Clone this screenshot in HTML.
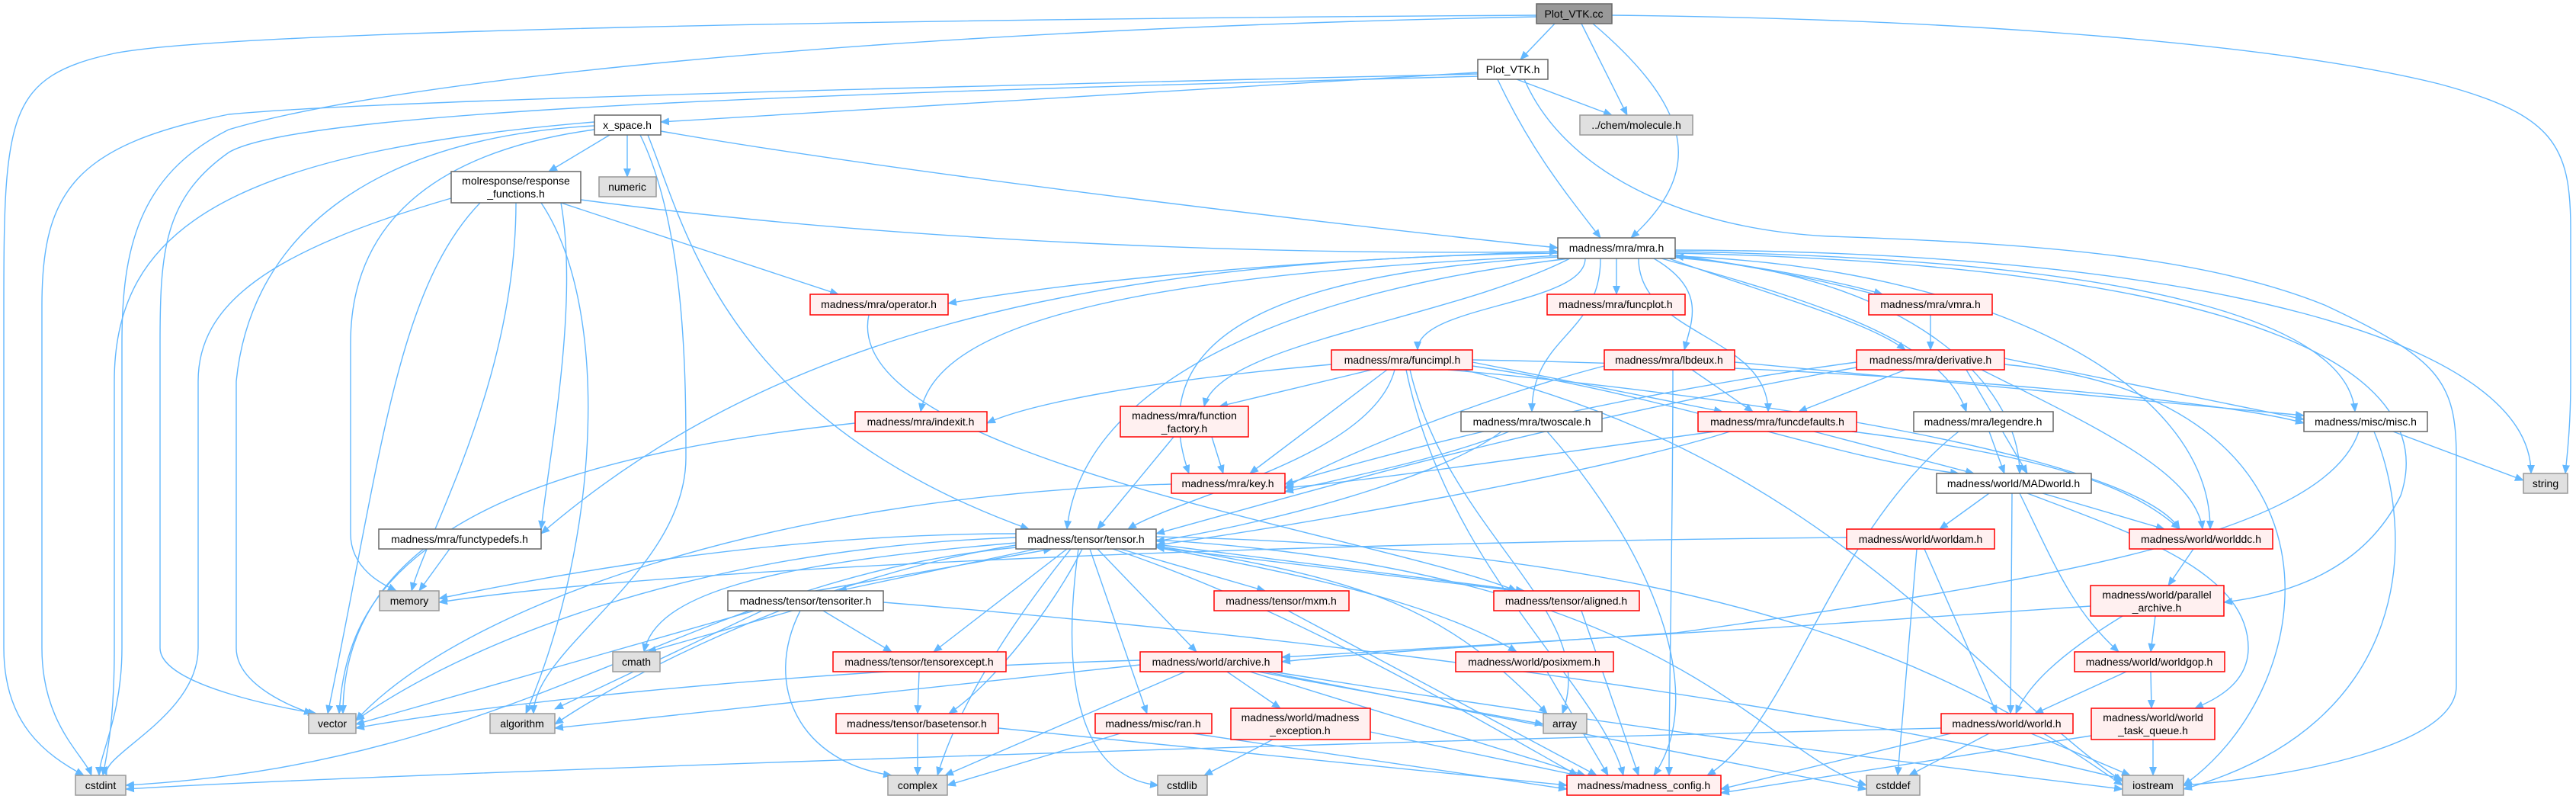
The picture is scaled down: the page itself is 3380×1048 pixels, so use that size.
<!DOCTYPE html>
<html><head><meta charset="utf-8"><style>
html,body{margin:0;padding:0;background:#fff;}
svg{display:block;}
text{font-family:"Liberation Sans",Arial,sans-serif;font-size:14px;fill:#000;text-anchor:middle;}
.e{fill:none;stroke:#63b8ff;stroke-width:1.4;marker-end:url(#a);}
.n{fill:#fff;stroke:#666;stroke-width:1.5;}
.r{fill:#fff0f0;stroke:#ff0000;stroke-width:1.5;}
.g{fill:#e0e0e0;stroke:#999;stroke-width:1.5;}
.k{fill:#999;stroke:#666;stroke-width:1.5;}
</style></head><body>
<svg width="3380" height="1048" viewBox="0 0 3380 1048" xmlns="http://www.w3.org/2000/svg">
<defs><marker id="a" markerWidth="12" markerHeight="10" refX="11" refY="5" orient="auto" markerUnits="userSpaceOnUse"><path d="M0,0 L12,5 L0,10 z" fill="#63b8ff"/></marker></defs>
<g>
<path class="e" d="M2040,31 L1995,78"/>
<path class="e" d="M2075,31 L2135,151"/>
<path class="e" d="M2090,31 C2230,150 2230,230 2140,312"/>
<path class="e" d="M2016,20 C1200,25 300,40 150,70 C10,100 5,150 5,400 L5,850 C5,950 60,990 110,1017"/>
<path class="e" d="M2016,22 C1100,40 500,110 300,170 C180,230 160,330 160,450 L160,850 C160,940 130,990 130,1017"/>
<path class="e" d="M2115,20 C2600,25 3000,60 3200,110 C3350,150 3373,190 3373,300 L3373,500 C3373,560 3368,600 3366,621"/>
<path class="e" d="M1939,95 L867,160"/>
<path class="e" d="M1939,97 C1400,110 500,130 300,150 C100,190 55,250 55,400 L55,850 C55,950 110,990 120,1017"/>
<path class="e" d="M1939,100 C1200,120 400,140 300,200 C215,260 210,330 210,450 L210,850 C210,900 380,930 415,936"/>
<path class="e" d="M1965,104 C2010,200 2060,260 2100,312"/>
<path class="e" d="M1990,104 L2115,151"/>
<path class="e" d="M2000,104 C2050,220 2200,300 2400,310 C2700,320 2900,340 3050,400 C3200,470 3223,500 3223,600 L3223,900 C3223,980 3000,1020 2865,1030"/>
<path class="e" d="M2044,330 C1700,340 1400,370 1244,398"/>
<path class="e" d="M2121,339 L2121,386"/>
<path class="e" d="M2198,334 C2300,350 2400,365 2470,386"/>
<path class="e" d="M2460,386 C2380,365 2280,345 2198,336"/>
<path class="e" d="M2533,413 L2533,459"/>
<path class="e" d="M2190,339 C2300,380 2450,420 2500,459"/>
<path class="e" d="M2080,339 C2080,400 1860,400 1860,459"/>
<path class="e" d="M2170,339 C2240,380 2220,420 2210,459"/>
<path class="e" d="M2050,335 C1500,360 1230,420 1208,540"/>
<path class="e" d="M2060,339 C1900,420 1600,450 1580,533"/>
<path class="e" d="M2100,339 C2100,440 2010,440 2010,540"/>
<path class="e" d="M2150,339 C2150,440 2320,440 2320,540"/>
<path class="e" d="M2180,339 C2400,400 2550,450 2580,540"/>
<path class="e" d="M2198,330 C2800,340 3080,420 3090,540"/>
<path class="e" d="M2044,337 C1650,360 1500,450 1560,621"/>
<path class="e" d="M2198,338 C2500,360 2650,500 2650,621"/>
<path class="e" d="M2044,332 C1400,340 1000,450 710,700"/>
<path class="e" d="M2060,339 C1700,380 1420,500 1400,694"/>
<path class="e" d="M2198,336 C2600,350 2900,500 2900,694"/>
<path class="e" d="M2198,332 C3000,350 3200,500 3150,650 C3100,750 3000,780 2918,790"/>
<path class="e" d="M2198,328 C2900,330 3321,450 3321,621"/>
<path class="e" d="M1140,413 C1100,600 1800,700 1990,775"/>
<path class="e" d="M1747,478 C1500,500 1350,530 1295,555"/>
<path class="e" d="M1800,485 L1600,533"/>
<path class="e" d="M1820,485 L1640,621"/>
<path class="e" d="M1830,485 C1800,600 1550,650 1480,694"/>
<path class="e" d="M1932,475 L2260,540"/>
<path class="e" d="M1932,480 C2200,520 2400,600 2570,621"/>
<path class="e" d="M1900,485 C2300,520 2800,600 2860,694"/>
<path class="e" d="M1932,472 C2400,480 2900,520 3023,555"/>
<path class="e" d="M1850,485 C1900,700 2100,800 2050,936"/>
<path class="e" d="M1845,485 C1900,750 2100,900 2130,1017"/>
<path class="e" d="M1920,485 C2400,600 2600,900 2785,1025"/>
<path class="e" d="M2105,480 C1950,520 1750,600 1686,640"/>
<path class="e" d="M2220,485 L2300,540"/>
<path class="e" d="M2195,485 C2195,700 2190,900 2190,1017"/>
<path class="e" d="M2276,475 L3023,545"/>
<path class="e" d="M2500,485 L2360,540"/>
<path class="e" d="M2436,475 C2100,520 1800,600 1686,635"/>
<path class="e" d="M2436,482 C2000,560 1700,650 1517,700"/>
<path class="e" d="M2580,485 L2660,621"/>
<path class="e" d="M2600,485 C2750,560 2880,620 2890,694"/>
<path class="e" d="M2630,470 L3023,550"/>
<path class="e" d="M2630,478 C3100,520 3050,900 2865,1030"/>
<path class="e" d="M1590,573 L1605,621"/>
<path class="e" d="M1540,573 L1440,694"/>
<path class="e" d="M1122,555 C700,600 450,700 450,936"/>
<path class="e" d="M1980,566 C1900,600 1750,630 1686,645"/>
<path class="e" d="M1970,566 C1900,620 1700,680 1517,710"/>
<path class="e" d="M2030,566 C2150,700 2250,900 2170,1017"/>
<path class="e" d="M2250,566 C2000,600 1800,630 1686,640"/>
<path class="e" d="M2380,566 L2590,621"/>
<path class="e" d="M2430,566 C2700,600 2800,640 2860,694"/>
<path class="e" d="M2270,566 C2100,620 1700,690 1517,715"/>
<path class="e" d="M2610,566 L2630,621"/>
<path class="e" d="M2570,566 C2400,700 2350,950 2240,1017"/>
<path class="e" d="M3140,566 L3311,630"/>
<path class="e" d="M3115,566 C3170,700 3170,950 2865,1035"/>
<path class="e" d="M3095,566 C3050,700 2700,760 2200,830 C1900,850 1750,860 1682,868"/>
<path class="e" d="M1537,635 C1000,650 600,800 467,945"/>
<path class="e" d="M2610,647 L2545,694"/>
<path class="e" d="M2680,647 L2840,694"/>
<path class="e" d="M2640,647 L2638,936"/>
<path class="e" d="M2650,647 C2700,750 2720,800 2780,855"/>
<path class="e" d="M2660,647 C2800,700 2950,750 2950,850 C2950,900 2900,920 2880,929"/>
<path class="e" d="M2423,705 C1800,710 900,740 576,790"/>
<path class="e" d="M2525,720 L2620,936"/>
<path class="e" d="M2515,720 L2490,1017"/>
<path class="e" d="M2878,720 L2845,768"/>
<path class="e" d="M2743,795 C2400,820 1900,850 1682,862"/>
<path class="e" d="M2785,808 C2700,860 2660,900 2645,936"/>
<path class="e" d="M2828,808 L2822,855"/>
<path class="e" d="M2790,881 L2670,936"/>
<path class="e" d="M2822,881 L2823,929"/>
<path class="e" d="M2547,955 C1500,980 400,1020 165,1035"/>
<path class="e" d="M2560,962 L2258,1035"/>
<path class="e" d="M2610,962 L2505,1017"/>
<path class="e" d="M2665,962 L2795,1017"/>
<path class="e" d="M2744,965 L2258,1040"/>
<path class="e" d="M2825,970 L2825,1017"/>
<path class="e" d="M590,720 L550,775"/>
<path class="e" d="M560,720 C480,780 450,850 445,936"/>
<path class="e" d="M1360,720 L1100,775"/>
<path class="e" d="M1070,775 L1380,720"/>
<path class="e" d="M1470,720 L1660,775"/>
<path class="e" d="M1517,714 L2000,775"/>
<path class="e" d="M1990,775 L1517,718"/>
<path class="e" d="M1400,720 L1225,855"/>
<path class="e" d="M1440,720 L1570,855"/>
<path class="e" d="M1517,718 C1750,760 1900,800 1990,855"/>
<path class="e" d="M1420,720 C1380,800 1300,900 1245,936"/>
<path class="e" d="M1430,720 L1505,936"/>
<path class="e" d="M1333,712 C1000,740 860,780 845,855"/>
<path class="e" d="M1405,720 C1300,850 1250,950 1230,1017"/>
<path class="e" d="M1415,720 C1390,900 1420,1020 1520,1030"/>
<path class="e" d="M1333,705 C900,720 600,850 467,945"/>
<path class="e" d="M1333,700 C1000,700 700,760 576,785"/>
<path class="e" d="M1333,715 C1050,760 800,900 728,950"/>
<path class="e" d="M1517,716 C1800,760 1900,800 2030,936"/>
<path class="e" d="M1517,708 C2200,750 2300,980 2449,1030"/>
<path class="e" d="M1460,720 C1700,800 1950,950 2070,1017"/>
<path class="e" d="M1517,704 C2300,720 2600,900 2785,1030"/>
<path class="e" d="M1333,718 C900,760 700,1000 165,1030"/>
<path class="e" d="M1040,801 L850,855"/>
<path class="e" d="M1080,801 L1170,855"/>
<path class="e" d="M1000,801 L728,930"/>
<path class="e" d="M990,801 L467,950"/>
<path class="e" d="M1050,801 C1000,900 1050,1000 1170,1017"/>
<path class="e" d="M1159,790 C1900,850 2500,950 2785,1022"/>
<path class="e" d="M1690,801 L2095,1017"/>
<path class="e" d="M2075,801 L2150,1017"/>
<path class="e" d="M1206,881 L1204,936"/>
<path class="e" d="M1610,881 L1680,929"/>
<path class="e" d="M1496,866 C1000,880 600,930 467,955"/>
<path class="e" d="M1496,872 L728,955"/>
<path class="e" d="M1555,881 L1240,1017"/>
<path class="e" d="M1650,881 L2025,950"/>
<path class="e" d="M1640,881 L2080,1017"/>
<path class="e" d="M1660,881 L2449,1035"/>
<path class="e" d="M1670,881 C2100,950 2500,1000 2785,1035"/>
<path class="e" d="M2030,881 L2110,1017"/>
<path class="e" d="M1204,962 L1204,1017"/>
<path class="e" d="M1310,955 L2056,1030"/>
<path class="e" d="M1470,962 L1243,1030"/>
<path class="e" d="M1565,962 L2056,1035"/>
<path class="e" d="M1670,970 L1580,1017"/>
<path class="e" d="M1798,960 L2070,1017"/>
<path class="e" d="M736,266 L1100,386"/>
<path class="e" d="M762,262 C1200,320 1700,335 2044,330"/>
<path class="e" d="M592,260 C350,330 260,400 260,500 L260,850 C260,940 130,990 140,1017"/>
<path class="e" d="M630,266 C520,380 500,600 430,936"/>
<path class="e" d="M677,266 C677,500 560,700 540,775"/>
<path class="e" d="M710,266 C800,400 790,700 690,936"/>
<path class="e" d="M736,266 C760,400 720,600 710,694"/>
<path class="e" d="M800,177 L720,225"/>
<path class="e" d="M823,177 L823,232"/>
<path class="e" d="M867,172 C1200,230 1800,300 2044,325"/>
<path class="e" d="M850,177 C900,300 950,550 1350,694"/>
<path class="e" d="M780,165 C500,180 330,300 310,500 L310,850 C310,900 390,930 410,936"/>
<path class="e" d="M780,170 C560,200 460,300 460,450 L460,700 C460,750 510,770 520,775"/>
<path class="e" d="M840,177 C900,300 900,500 900,600 C900,750 700,850 700,936"/>
<path class="e" d="M780,160 C300,200 150,300 150,500 L150,850 C150,950 140,990 135,1017"/>
</g>
<g>
<rect class="k" x="2016" y="5" width="99" height="26"/><text x="2065" y="23">Plot_VTK.cc</text>
<rect class="n" x="1939" y="78" width="92" height="26"/><text x="1985" y="96">Plot_VTK.h</text>
<rect class="g" x="2073" y="151" width="148" height="26"/><text x="2147" y="169">../chem/molecule.h</text>
<rect class="n" x="780" y="151" width="87" height="26"/><text x="823" y="169">x_space.h</text>
<rect class="n" x="592" y="225" width="170" height="41"/><text x="677" y="242">molresponse/response</text><text x="677" y="259">_functions.h</text>
<rect class="g" x="786" y="232" width="75" height="26"/><text x="823" y="250">numeric</text>
<rect class="n" x="2044" y="312" width="154" height="27"/><text x="2121" y="330">madness/mra/mra.h</text>
<rect class="r" x="1063" y="386" width="181" height="27"/><text x="1153" y="404">madness/mra/operator.h</text>
<rect class="r" x="2030" y="386" width="181" height="27"/><text x="2120" y="404">madness/mra/funcplot.h</text>
<rect class="r" x="2452" y="386" width="162" height="27"/><text x="2533" y="404">madness/mra/vmra.h</text>
<rect class="r" x="1747" y="459" width="185" height="26"/><text x="1840" y="477">madness/mra/funcimpl.h</text>
<rect class="r" x="2105" y="459" width="171" height="26"/><text x="2190" y="477">madness/mra/lbdeux.h</text>
<rect class="r" x="2436" y="459" width="194" height="26"/><text x="2533" y="477">madness/mra/derivative.h</text>
<rect class="r" x="1122" y="540" width="173" height="26"/><text x="1208" y="558">madness/mra/indexit.h</text>
<rect class="r" x="1470" y="533" width="168" height="40"/><text x="1554" y="550">madness/mra/function</text><text x="1554" y="567">_factory.h</text>
<rect class="n" x="1917" y="540" width="185" height="26"/><text x="2010" y="558">madness/mra/twoscale.h</text>
<rect class="r" x="2228" y="540" width="208" height="26"/><text x="2332" y="558">madness/mra/funcdefaults.h</text>
<rect class="n" x="2511" y="540" width="183" height="26"/><text x="2602" y="558">madness/mra/legendre.h</text>
<rect class="n" x="3023" y="540" width="162" height="26"/><text x="3104" y="558">madness/misc/misc.h</text>
<rect class="r" x="1537" y="621" width="149" height="26"/><text x="1611" y="639">madness/mra/key.h</text>
<rect class="n" x="2541" y="621" width="203" height="26"/><text x="2642" y="639">madness/world/MADworld.h</text>
<rect class="g" x="3311" y="621" width="58" height="26"/><text x="3340" y="639">string</text>
<rect class="n" x="497" y="694" width="213" height="26"/><text x="603" y="712">madness/mra/functypedefs.h</text>
<rect class="n" x="1333" y="694" width="184" height="26"/><text x="1425" y="712">madness/tensor/tensor.h</text>
<rect class="r" x="2423" y="694" width="194" height="26"/><text x="2520" y="712">madness/world/worldam.h</text>
<rect class="r" x="2794" y="694" width="188" height="26"/><text x="2888" y="712">madness/world/worlddc.h</text>
<rect class="g" x="498" y="775" width="78" height="26"/><text x="537" y="793">memory</text>
<rect class="n" x="955" y="775" width="204" height="26"/><text x="1057" y="793">madness/tensor/tensoriter.h</text>
<rect class="r" x="1593" y="775" width="177" height="26"/><text x="1681" y="793">madness/tensor/mxm.h</text>
<rect class="r" x="1960" y="775" width="191" height="26"/><text x="2055" y="793">madness/tensor/aligned.h</text>
<rect class="r" x="2743" y="768" width="175" height="40"/><text x="2830" y="785">madness/world/parallel</text><text x="2830" y="802">_archive.h</text>
<rect class="g" x="804" y="855" width="62" height="26"/><text x="835" y="873">cmath</text>
<rect class="r" x="1093" y="855" width="227" height="26"/><text x="1206" y="873">madness/tensor/tensorexcept.h</text>
<rect class="r" x="1496" y="855" width="186" height="26"/><text x="1589" y="873">madness/world/archive.h</text>
<rect class="r" x="1910" y="855" width="207" height="26"/><text x="2013" y="873">madness/world/posixmem.h</text>
<rect class="r" x="2722" y="855" width="197" height="26"/><text x="2820" y="873">madness/world/worldgop.h</text>
<rect class="g" x="405" y="936" width="62" height="26"/><text x="436" y="954">vector</text>
<rect class="g" x="643" y="936" width="85" height="26"/><text x="685" y="954">algorithm</text>
<rect class="r" x="1097" y="936" width="213" height="26"/><text x="1203" y="954">madness/tensor/basetensor.h</text>
<rect class="r" x="1437" y="936" width="153" height="26"/><text x="1513" y="954">madness/misc/ran.h</text>
<rect class="r" x="1615" y="929" width="183" height="41"/><text x="1706" y="946">madness/world/madness</text><text x="1706" y="963">_exception.h</text>
<rect class="g" x="2025" y="936" width="57" height="26"/><text x="2053" y="954">array</text>
<rect class="r" x="2547" y="936" width="173" height="26"/><text x="2633" y="954">madness/world/world.h</text>
<rect class="r" x="2744" y="929" width="162" height="41"/><text x="2825" y="946">madness/world/world</text><text x="2825" y="963">_task_queue.h</text>
<rect class="g" x="99" y="1017" width="66" height="26"/><text x="132" y="1035">cstdint</text>
<rect class="g" x="1165" y="1017" width="78" height="26"/><text x="1204" y="1035">complex</text>
<rect class="g" x="1519" y="1017" width="65" height="26"/><text x="1551" y="1035">cstdlib</text>
<rect class="r" x="2056" y="1017" width="202" height="26"/><text x="2157" y="1035">madness/madness_config.h</text>
<rect class="g" x="2449" y="1017" width="70" height="26"/><text x="2484" y="1035">cstddef</text>
<rect class="g" x="2785" y="1017" width="80" height="26"/><text x="2825" y="1035">iostream</text>
</g>
</svg>
</body></html>
